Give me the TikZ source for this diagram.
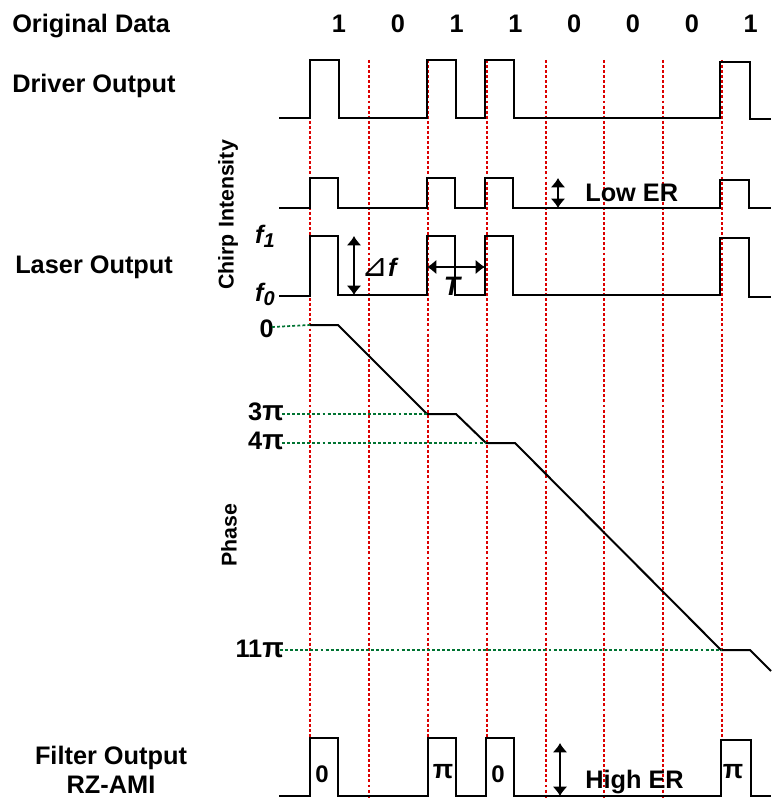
\documentclass[tikz,border=0pt]{standalone}
\usepackage{fontspec}
\setmainfont{Liberation Sans}
\newfontfamily\symfont{DejaVu Sans}
\usetikzlibrary{arrows.meta}
\definecolor{gridred}{RGB}{220,0,0}
\definecolor{guidegreen}{RGB}{0,115,50}
\begin{document}
\begin{tikzpicture}[x=0.75pt,y=-0.75pt,
 trace/.style={line width=1.5pt, line join=miter},
 gridline/.style={gridred, line width=1.3pt, dash pattern=on 2.2pt off 1.6pt},
 guide/.style={guidegreen, line width=1.3pt, dash pattern=on 2.2pt off 1.6pt},
 big/.style={font=\bfseries\fontsize{19}{22}\selectfont, inner sep=0pt},
 mid/.style={font=\bfseries\fontsize{18}{20}\selectfont, inner sep=0pt},
 small/.style={font=\bfseries\fontsize{16}{18}\selectfont, inner sep=0pt},
 dbl/.style={line width=1.2pt, {Latex[length=7pt,width=11pt]}-{Latex[length=7pt,width=11pt]}}
]
\useasboundingbox (0,0) rectangle (771,798);

% red dotted bit boundaries
\foreach \x/\e in {310/738,369/798,428/738,487/738,546/798,604/798,663/798,722/740}
  \draw[gridline] (\x,60) -- (\x,\e);

% labels
\node[big, anchor=base west] (orig) at (12,33) {Original Data};
\foreach \k/\b in {0/1,1/0,2/1,3/1,4/0,5/0,6/0,7/1}
  \node[big, anchor=base] (bit\k) at ({339+58.8*\k},33) {\b};
\node[big, anchor=base west] (drv) at (12,93) {Driver Output};
\node[big, anchor=base west] (laser) at (15,273) {Laser Output};
\node[big, anchor=base] (filt) at (111,764) {Filter Output};
\node[big, anchor=base] (rzami) at (111,793) {RZ-AMI};
\node[small, rotate=90] (int) at (228,184) {Intensity};
\node[small, rotate=90] (chirp) at (228,262) {Chirp};
\node[small, rotate=90] (phase) at (229,535) {Phase};

% driver output
\draw[trace] (279,118) -- (310,118) -- (310,60) -- (339,60) -- (339,118) -- (427,118) -- (427,60) -- (456,60) -- (456,118) -- (485,118) -- (485,60) -- (514,60) -- (514,118) -- (720,118) -- (720,62) -- (750,62) -- (750,119) -- (771,119);

% intensity
\draw[trace] (279,208) -- (310,208) -- (310,178) -- (338,178) -- (338,208) -- (427,208) -- (427,178) -- (455,178) -- (455,208) -- (485,208) -- (485,178) -- (513,178) -- (513,208) -- (720,208) -- (720,180) -- (749,180) -- (749,208) -- (771,208);

% chirp
\draw[trace] (279,296) -- (310,296) -- (310,236) -- (338,236) -- (338,295) -- (427,295) -- (427,236) -- (455,236) -- (455,295) -- (485,295) -- (485,236) -- (513,236) -- (513,295) -- (720,295) -- (720,238) -- (749,238) -- (749,297) -- (771,297);

\node[anchor=east, inner sep=0pt, font=\bfseries\itshape\fontsize{19}{22}\selectfont] (f1) at (275,236) {f{\fontsize{15}{16}\selectfont\raisebox{-3pt}{1}}};
\node[anchor=east, inner sep=0pt, font=\bfseries\itshape\fontsize{19}{22}\selectfont] (f0) at (275,294) {f{\fontsize{15}{16}\selectfont\raisebox{-3pt}{0}}};

\coordinate (dfa) at (354,236);
\coordinate (dfb) at (354,295);
\draw[dbl] (dfa) -- (dfb);
\node[anchor=west, inner sep=0pt] (df) at (361,267) {{\symfont\fontsize{24}{26}\selectfont ⊿}{\bfseries\itshape\fontsize{19}{22}\selectfont f}};

\coordinate (ta) at (427,267);
\coordinate (tb) at (485,267);
\draw[dbl] (ta) -- (tb);
\node[inner sep=0pt, font=\bfseries\itshape\fontsize{20}{22}\selectfont] (T) at (452,286) {T};

\coordinate (lera) at (558,178);
\coordinate (lerb) at (558,208);
\draw[dbl] (lera) -- (lerb);
\node[big, anchor=base west] (ler) at (585,202) {Low ER};

% phase
\coordinate (ph0) at (310,325);
\coordinate (ph1) at (338,325);
\coordinate (ph3) at (427,414);
\coordinate (ph3b) at (456,414);
\coordinate (ph4) at (486,443);
\coordinate (ph4b) at (515,443);
\coordinate (ph11) at (721,650);
\coordinate (ph11b) at (750,650);
\coordinate (phend) at (771,671);
\draw[trace] (ph0) -- (ph1) -- (ph3) -- (ph3b) -- (ph4) -- (ph4b) -- (ph11) -- (ph11b) -- (phend);

\node[big, anchor=base east] (p0) at (274,337) {0};
\node[big, anchor=base east] (p3) at (284,420) {3{\fontsize{21}{22}\selectfont π}};
\node[big, anchor=base east] (p4) at (284,449) {4{\fontsize{21}{22}\selectfont π}};
\node[big, anchor=base east] (p11) at (284,657) {11{\fontsize{21}{22}\selectfont π}};
\draw[guide] (272,327) -- (ph0);
\draw[guide] (282,414) -- (ph3);
\draw[guide] (282,443) -- (ph4);
\draw[guide] (280,650) -- (ph11);

% filter output
\draw[trace] (279,796) -- (310,796) -- (310,738) -- (338,738) -- (338,796) -- (428,796) -- (428,738) -- (456,738) -- (456,796) -- (486,796) -- (486,738) -- (514,738) -- (514,796) -- (721,796) -- (721,740) -- (751,740) -- (751,796) -- (771,796);
\node[mid, anchor=base] (q1) at (322,782) {0};
\node[mid, anchor=base, font=\bfseries\fontsize{20}{22}\selectfont] (q3) at (443,778) {π};
\node[mid, anchor=base] (q4) at (498,782) {0};
\node[mid, anchor=base, font=\bfseries\fontsize{20}{22}\selectfont] (q8) at (733,778) {π};

\coordinate (hera) at (560,743);
\coordinate (herb) at (560,796);
\draw[dbl] (hera) -- (herb);
\node[big, anchor=base west] (her) at (585,788) {High ER};
\end{tikzpicture}
\end{document}
